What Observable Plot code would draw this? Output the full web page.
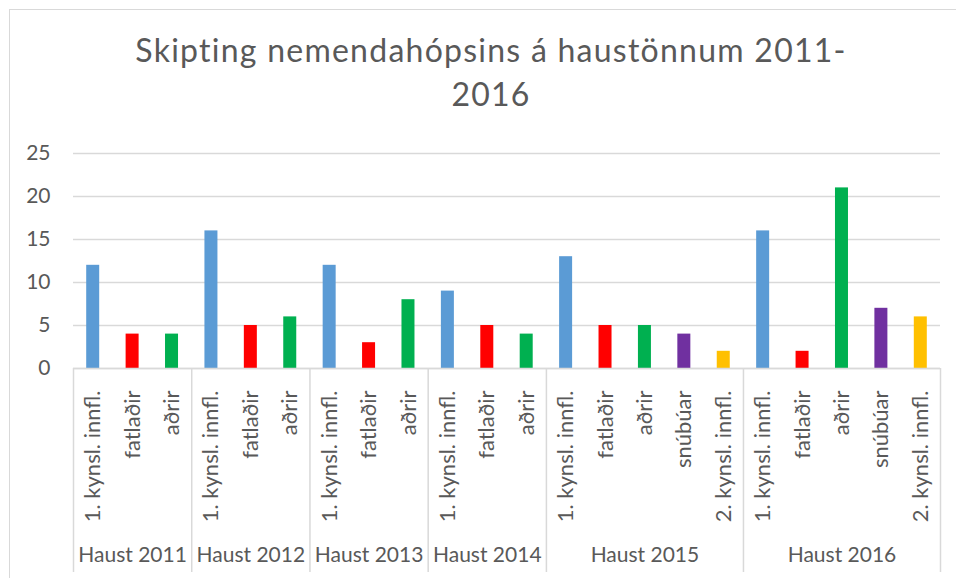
<!DOCTYPE html>
<html>
<head>
<meta charset="utf-8">
<script src="https://cdn.jsdelivr.net/npm/d3@7"></script>
<script src="https://cdn.jsdelivr.net/npm/@observablehq/plot@0.6"></script>
<style>
  html, body { margin: 0; padding: 0; background: #fff; }
  #wrap { position: relative; width: 956px; height: 578px; overflow: hidden; font-family: Lato, "Open Sans", sans-serif; }
  #frame { position: absolute; left: 9px; top: 9px; width: 1000px; height: 600px; border-left: 1.5px solid #d9d9d9; border-top: 1.5px solid #d9d9d9; }
  #title { position: absolute; left: 13px; top: 28px; width: 956px; text-align: center; font-size: 32px; letter-spacing: 1.25px; line-height: 44px; color: #595959; }
  #chart { position: absolute; left: 0; top: 0; }
</style>
</head>
<body>
<div id="wrap">
  <div id="frame"></div>
  <div id="chart"></div>
  <div id="title">Skipting nemendahópsins á haustönnum 2011-<br>2016</div>
</div>
<script>
const years = ["Haust 2011", "Haust 2012", "Haust 2013", "Haust 2014", "Haust 2015", "Haust 2016"];
const groupCategories = [
  ["1. kynsl. innfl.", "fatlaðir", "aðrir"],
  ["1. kynsl. innfl.", "fatlaðir", "aðrir"],
  ["1. kynsl. innfl.", "fatlaðir", "aðrir"],
  ["1. kynsl. innfl.", "fatlaðir", "aðrir"],
  ["1. kynsl. innfl.", "fatlaðir", "aðrir", "snúbúar", "2. kynsl. innfl."],
  ["1. kynsl. innfl.", "fatlaðir", "aðrir", "snúbúar", "2. kynsl. innfl."]
];
const groupValues = [
  [12, 4, 4],
  [16, 5, 6],
  [12, 3, 8],
  [9, 5, 4],
  [13, 5, 5, 4, 2],
  [16, 2, 21, 7, 6]
];
const categoryNames = ["1. kynsl. innfl.", "fatlaðir", "aðrir", "snúbúar", "2. kynsl. innfl."];
const categoryColors = ["#5B9BD5", "#FF0000", "#00B050", "#7030A0", "#FFC000"];
const yTicks = [0, 5, 10, 15, 20, 25];

const rows = [];
const groups = [];
let idx = 0;
years.forEach((year, g) => {
  const start = idx;
  groupCategories[g].forEach((cat, k) => {
    rows.push({year, cat, value: groupValues[g][k], i: idx});
    idx++;
  });
  groups.push({year, start, end: idx});
});
const boundaries = [0, ...groups.map(d => d.end)];
const total = idx;

const W = 956, H = 578, mL = 73, mR = 16, mT = 153, mB = 210;
const slot = (W - mL - mR) / total;
const barW = 13;
const inset = (slot - barW) / 2;
const plotH = H - mT - mB;

const plot = Plot.plot({
  width: W,
  height: H,
  marginLeft: mL,
  marginRight: mR,
  marginTop: mT,
  marginBottom: mB,
  style: {fontFamily: "Lato, 'Open Sans', sans-serif", color: "#595959", background: "transparent", overflow: "visible"},
  x: {type: "linear", domain: [0, total], axis: null},
  y: {domain: [0, 25], ticks: yTicks, label: null},
  color: {domain: categoryNames, range: categoryColors},
  marks: [
    Plot.gridY(yTicks, {stroke: "#d9d9d9", strokeOpacity: 1, strokeWidth: 1.3}),
    Plot.axisY(yTicks, {tickSize: 0, tickPadding: 23, fontSize: 21, fill: "#595959", label: null}),
    Plot.rectY(rows, {x1: "i", x2: d => d.i + 1, y: "value", fill: "cat", insetLeft: inset, insetRight: inset}),
    Plot.ruleY([0], {stroke: "#d9d9d9", strokeWidth: 1.3}),
    Plot.ruleX(boundaries, {stroke: "#d9d9d9", strokeWidth: 1.5, insetTop: plotH, insetBottom: -204}),
    Plot.text(rows, {x: d => d.i + 0.5, y: 0, text: "cat", rotate: -90, textAnchor: "end", lineAnchor: "middle", dy: 22, fontSize: 22, fill: "#595959"}),
    Plot.text(groups, {x: d => (d.start + d.end) / 2, y: 0, text: "year", lineAnchor: "middle", dy: 187, fontSize: 21, fill: "#595959"})
  ]
});
document.getElementById("chart").appendChild(plot);
</script>
</body>
</html>
